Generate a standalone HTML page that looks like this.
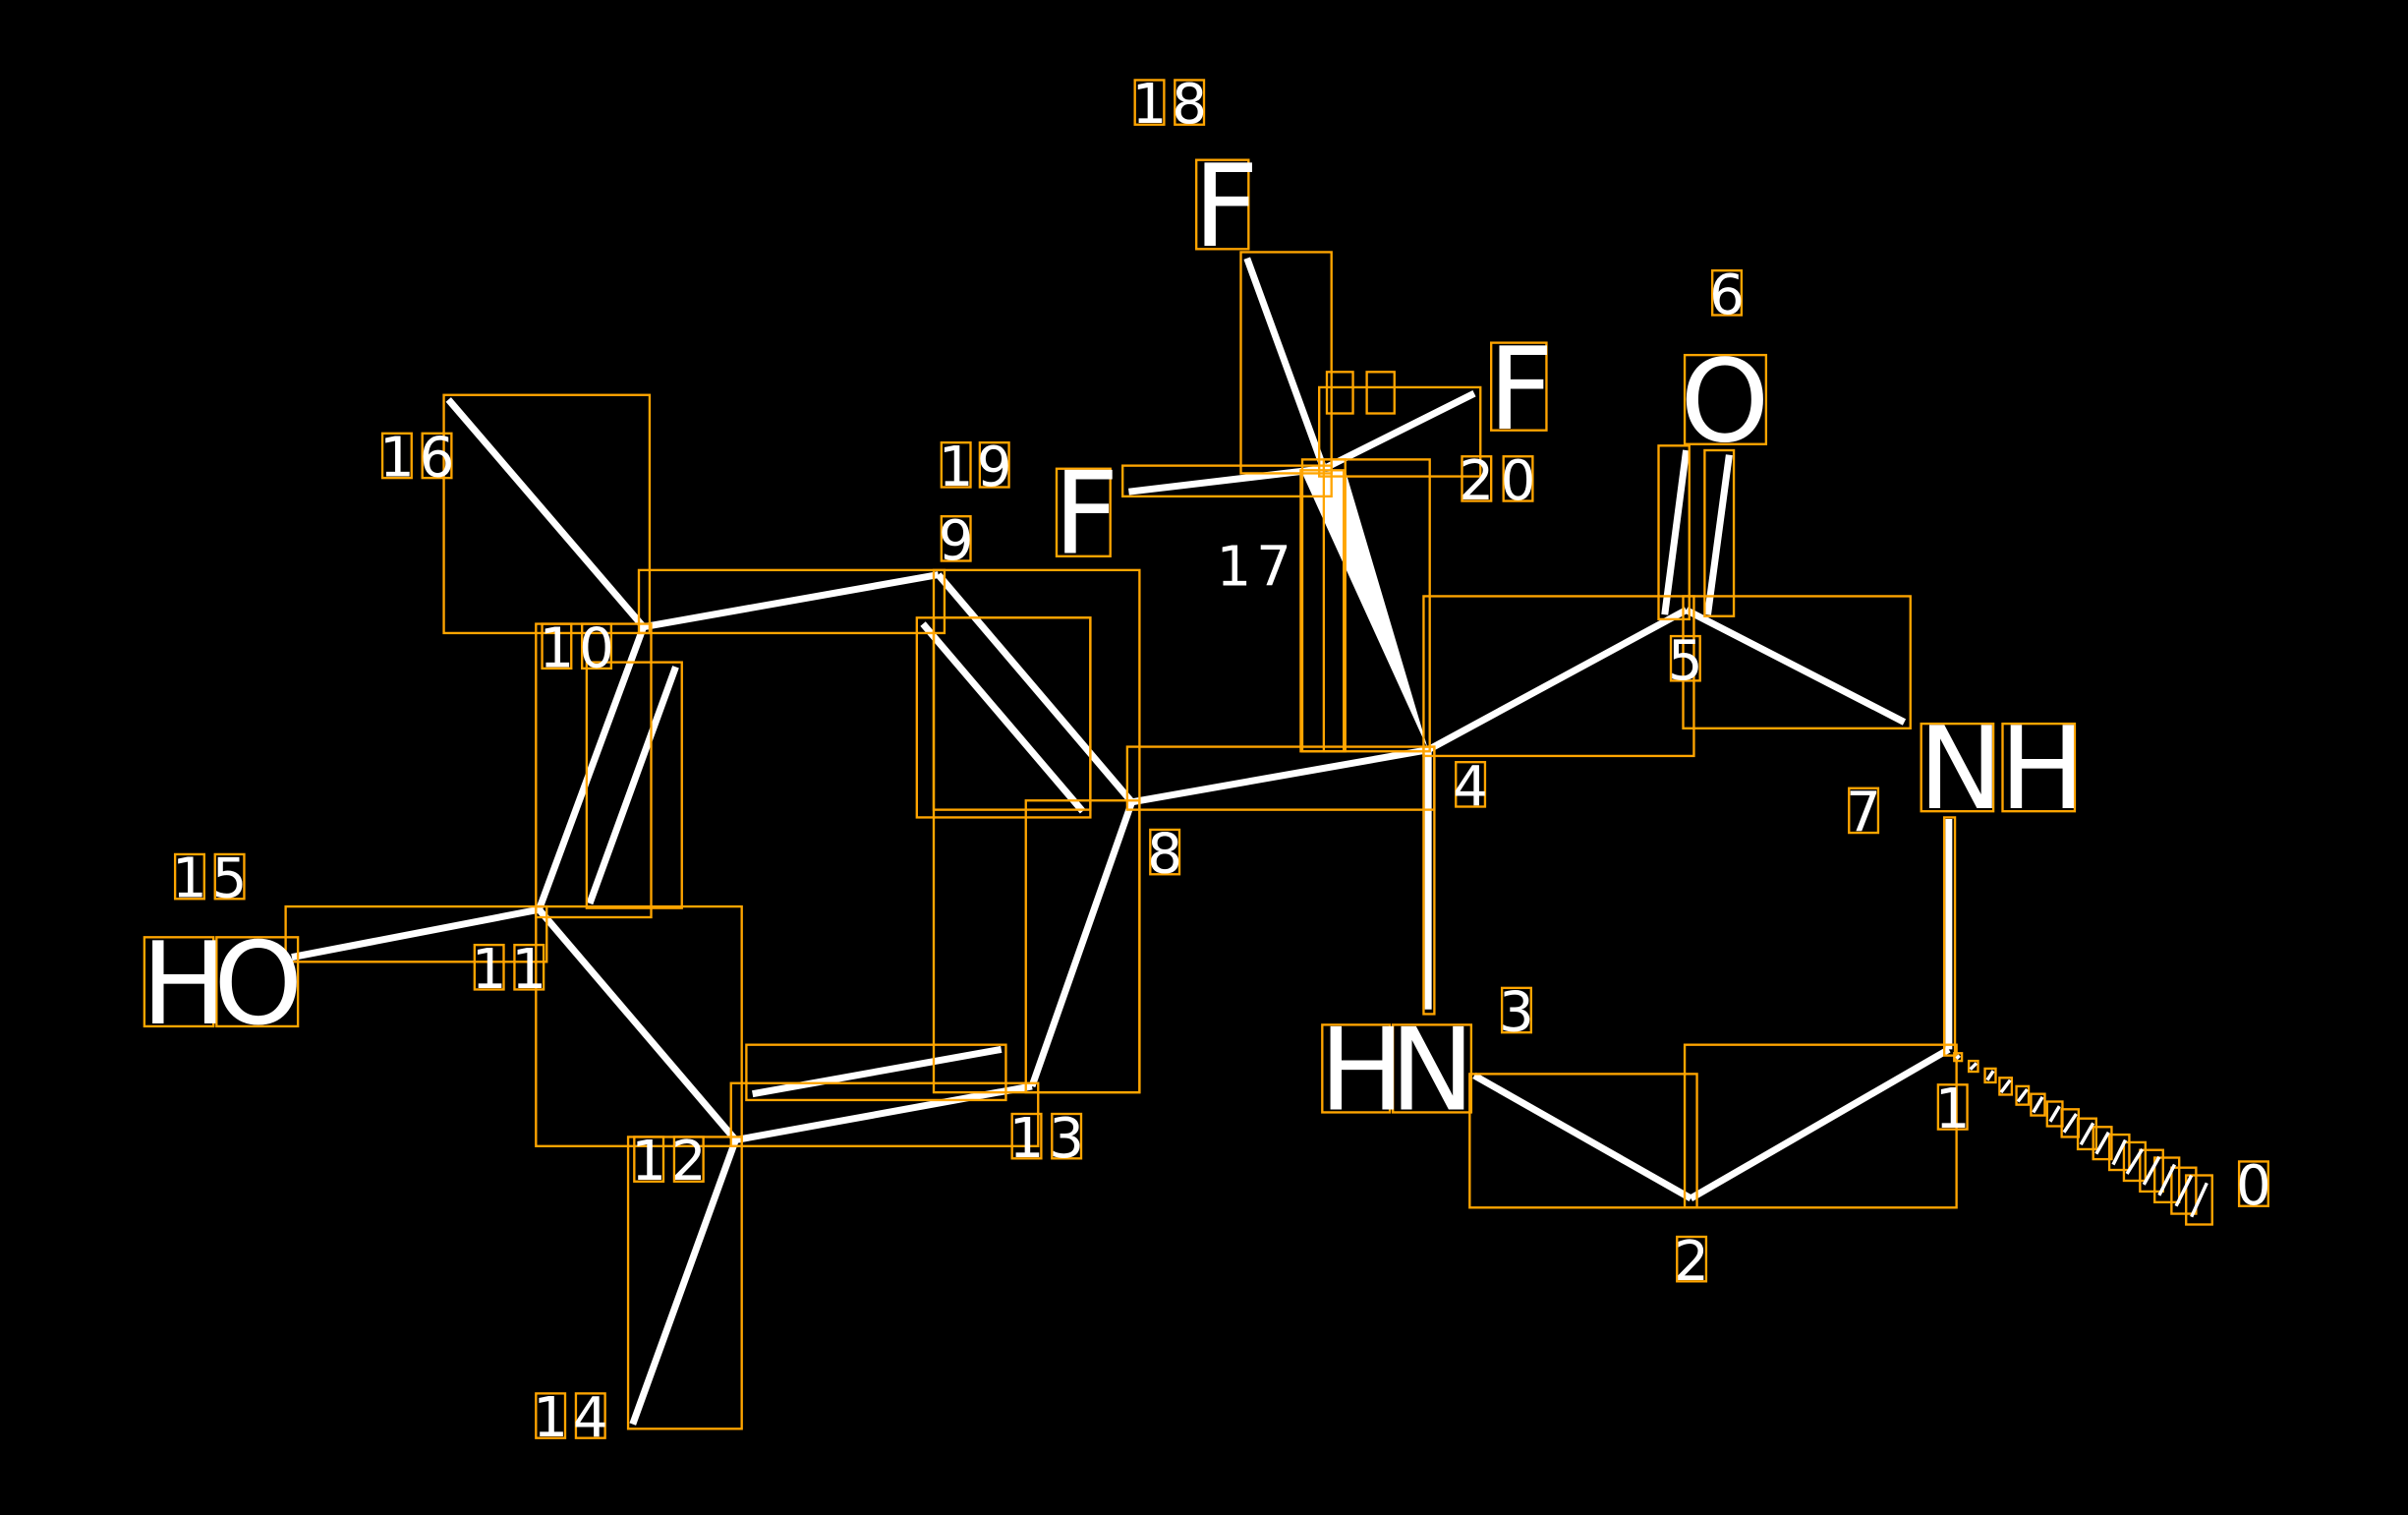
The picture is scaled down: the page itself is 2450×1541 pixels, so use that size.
<!DOCTYPE html>
<html><head><style>html,body{margin:0;padding:0;background:#000;}svg{display:block}</style></head>
<body>
<svg width="2450" height="1541" viewBox="0 0 1568 986" xmlns="http://www.w3.org/2000/svg">
<rect width="1568" height="986" fill="#000"/>
<g stroke="#fff" stroke-width="4.5" stroke-linecap="butt" fill="none">
<line x1="292" y1="260" x2="419" y2="408"/>
<line x1="419" y1="408" x2="611" y2="374"/>
<line x1="611" y1="374" x2="737" y2="522"/>
<line x1="601" y1="406" x2="705" y2="528"/>
<line x1="419" y1="408" x2="351" y2="592"/>
<line x1="440" y1="434" x2="384" y2="588"/>
<line x1="351" y1="592" x2="190" y2="623"/>
<line x1="351" y1="592" x2="479" y2="742"/>
<line x1="479" y1="742" x2="672" y2="707"/>
<line x1="490" y1="712" x2="652" y2="683"/>
<line x1="672" y1="707" x2="737" y2="522"/>
<line x1="479" y1="742" x2="412" y2="927"/>
<line x1="737" y1="522" x2="930" y2="488"/>
<line x1="812" y1="168" x2="862" y2="305"/>
<line x1="735" y1="320" x2="862" y2="305"/>
<line x1="862" y1="305" x2="960" y2="256"/>
<line x1="930" y1="488" x2="930" y2="657"/>
<line x1="930" y1="488" x2="1098" y2="397"/>
<line x1="1084" y1="400" x2="1098" y2="293"/>
<line x1="1112" y1="400" x2="1126" y2="296"/>
<line x1="1098" y1="397" x2="1240" y2="470"/>
<line x1="1269" y1="533" x2="1269" y2="683"/>
<line x1="1269" y1="683" x2="1101" y2="780"/>
<line x1="1101" y1="780" x2="960" y2="700"/>
</g>
<polygon points="930,488 848,308 876,306" fill="#fff"/>
<g fill="none" stroke="#FFA500" stroke-width="1.5">
<rect x="289" y="257" width="134" height="155"/>
<rect x="416" y="371" width="199" height="41"/>
<rect x="608" y="371" width="134" height="340"/>
<rect x="597" y="402" width="113" height="130"/>
<rect x="608" y="402" width="102" height="125"/>
<rect x="349" y="406" width="75" height="191"/>
<rect x="382" y="431" width="62" height="160"/>
<rect x="186" y="590" width="170" height="36"/>
<rect x="349" y="590" width="134" height="156"/>
<rect x="476" y="705" width="200" height="41"/>
<rect x="486" y="680" width="169" height="36"/>
<rect x="668" y="521" width="74" height="190"/>
<rect x="409" y="740" width="74" height="190"/>
<rect x="734" y="486" width="200" height="41"/>
<rect x="808" y="164" width="59" height="144"/>
<rect x="731" y="303" width="136" height="20"/>
<rect x="859" y="252" width="105" height="58"/>
<rect x="864" y="242" width="17" height="27"/>
<rect x="890" y="242" width="18" height="27"/>
<rect x="847" y="306" width="28" height="183"/>
<rect x="848" y="299" width="83" height="190"/>
<rect x="862" y="299" width="14" height="190"/>
<rect x="927" y="486" width="7" height="174"/>
<rect x="927" y="388" width="176" height="104"/>
<rect x="1080" y="290" width="20" height="113"/>
<rect x="1110" y="293" width="19" height="108"/>
<rect x="1096" y="388" width="148" height="86"/>
<rect x="1266" y="532" width="7" height="155"/>
<rect x="1097" y="680" width="177" height="106"/>
<rect x="957" y="699" width="148" height="87"/>
<rect x="779" y="104" width="34" height="58"/>
<rect x="971" y="223" width="36" height="57"/>
<rect x="688" y="305" width="35" height="57"/>
<rect x="1097" y="231" width="53" height="58"/>
<rect x="1251" y="471" width="47" height="57"/>
<rect x="1304" y="471" width="47" height="57"/>
<rect x="861" y="667" width="44" height="57"/>
<rect x="907" y="667" width="51" height="57"/>
<rect x="94" y="610" width="45" height="58"/>
<rect x="141" y="610" width="53" height="58"/>
<rect x="739" y="52" width="19" height="29"/><rect x="765" y="52" width="19" height="29"/>
<rect x="1115" y="176" width="19" height="29"/>
<rect x="249" y="282" width="19" height="29"/><rect x="275" y="282" width="19" height="29"/>
<rect x="613" y="288" width="19" height="29"/><rect x="638" y="288" width="19" height="29"/>
<rect x="613" y="336" width="19" height="29"/>
<rect x="952" y="297" width="19" height="29"/><rect x="979" y="297" width="19" height="29"/>
<rect x="353" y="406" width="19" height="29"/><rect x="379" y="406" width="19" height="29"/>
<rect x="948" y="496" width="19" height="29"/>
<rect x="1088" y="414" width="19" height="29"/>
<rect x="1204" y="513" width="19" height="29"/>
<rect x="749" y="540" width="19" height="29"/>
<rect x="114" y="556" width="19" height="29"/><rect x="140" y="556" width="19" height="29"/>
<rect x="309" y="615" width="19" height="29"/><rect x="335" y="615" width="19" height="29"/>
<rect x="978" y="643" width="19" height="29"/>
<rect x="413" y="740" width="19" height="29"/><rect x="439" y="740" width="19" height="29"/>
<rect x="659" y="725" width="19" height="29"/><rect x="685" y="725" width="19" height="29"/>
<rect x="1262" y="706" width="19" height="29"/>
<rect x="1458" y="756" width="19" height="29"/>
<rect x="1092" y="805" width="19" height="29"/>
<rect x="349" y="907" width="19" height="29"/><rect x="375" y="907" width="19" height="29"/>
</g>
<g stroke-width="1.5">
<g fill="none" stroke="#FFA500">
<rect x="1272.5" y="685.5" width="5" height="5"/>
<rect x="1282" y="690.5" width="6" height="7"/>
<rect x="1292.5" y="695.5" width="7" height="9"/>
<rect x="1302" y="701.5" width="8" height="11"/>
<rect x="1313" y="707" width="8" height="12"/>
<rect x="1322.5" y="712" width="9" height="14"/>
<rect x="1333" y="717" width="10" height="16"/>
<rect x="1342.5" y="722" width="11" height="18"/>
<rect x="1353" y="728" width="12" height="20"/>
<rect x="1363" y="733.5" width="12" height="21"/>
<rect x="1373.5" y="738.5" width="13" height="23"/>
<rect x="1383" y="743.5" width="14" height="25"/>
<rect x="1393.5" y="748.5" width="15" height="27"/>
<rect x="1403" y="753.5" width="16" height="29"/>
<rect x="1414" y="760" width="16" height="30"/>
<rect x="1423.5" y="765" width="17" height="32"/>
</g>
<g stroke="#fff" stroke-width="2.2">
<line x1="1274" y1="689" x2="1276" y2="687"/>
<line x1="1283" y1="696" x2="1287" y2="692"/>
<line x1="1294" y1="703" x2="1298" y2="697"/>
<line x1="1303" y1="711" x2="1309" y2="703"/>
<line x1="1314" y1="717" x2="1320" y2="709"/>
<line x1="1324" y1="724" x2="1330" y2="714"/>
<line x1="1335" y1="730" x2="1341" y2="720"/>
<line x1="1344" y1="737" x2="1352" y2="725"/>
<line x1="1355" y1="745" x2="1363" y2="731"/>
<line x1="1365" y1="751" x2="1373" y2="737"/>
<line x1="1376" y1="758" x2="1384" y2="742"/>
<line x1="1385" y1="764" x2="1395" y2="748"/>
<line x1="1396" y1="771" x2="1406" y2="753"/>
<line x1="1406" y1="778" x2="1416" y2="758"/>
<line x1="1417" y1="785" x2="1427" y2="765"/>
<line x1="1427" y1="792" x2="1437" y2="770"/>
</g>
</g>
<g fill="#fff" font-family="'DejaVu Sans','Liberation Sans',sans-serif">
<g font-size="74">
<text x="777" y="160">F</text>
<text x="969" y="279">F</text>
<text x="686" y="360">F</text>
<text x="1094" y="287">O</text>
<text x="1249" y="526">N</text><text x="1302" y="526">H</text>
<text x="859" y="722">H</text><text x="905" y="722">N</text>
<text x="92" y="666">H</text><text x="139" y="666">O</text>
</g>
<g font-size="36">
<text x="737" y="80">1</text><text x="763" y="80">8</text>
<text x="1113" y="204">6</text>
<text x="247" y="310">1</text><text x="273" y="310">6</text>
<text x="611" y="316">1</text><text x="636" y="316">9</text>
<text x="611" y="364">9</text>
<text x="950" y="325">2</text><text x="977" y="325">0</text>
<text x="792" y="381">1</text><text x="818" y="381">7</text>
<text x="351" y="434">1</text><text x="377" y="434">0</text>
<text x="946" y="524">4</text>
<text x="1086" y="442">5</text>
<text x="1202" y="541">7</text>
<text x="747" y="568">8</text>
<text x="112" y="584">1</text><text x="138" y="584">5</text>
<text x="307" y="643">1</text><text x="333" y="643">1</text>
<text x="976" y="671">3</text>
<text x="411" y="768">1</text><text x="437" y="768">2</text>
<text x="657" y="753">1</text><text x="683" y="753">3</text>
<text x="1260" y="734">1</text>
<text x="1456" y="784">0</text>
<text x="1090" y="833">2</text>
<text x="347" y="935">1</text><text x="373" y="935">4</text>
</g>
</g>
</svg>
</body></html>
